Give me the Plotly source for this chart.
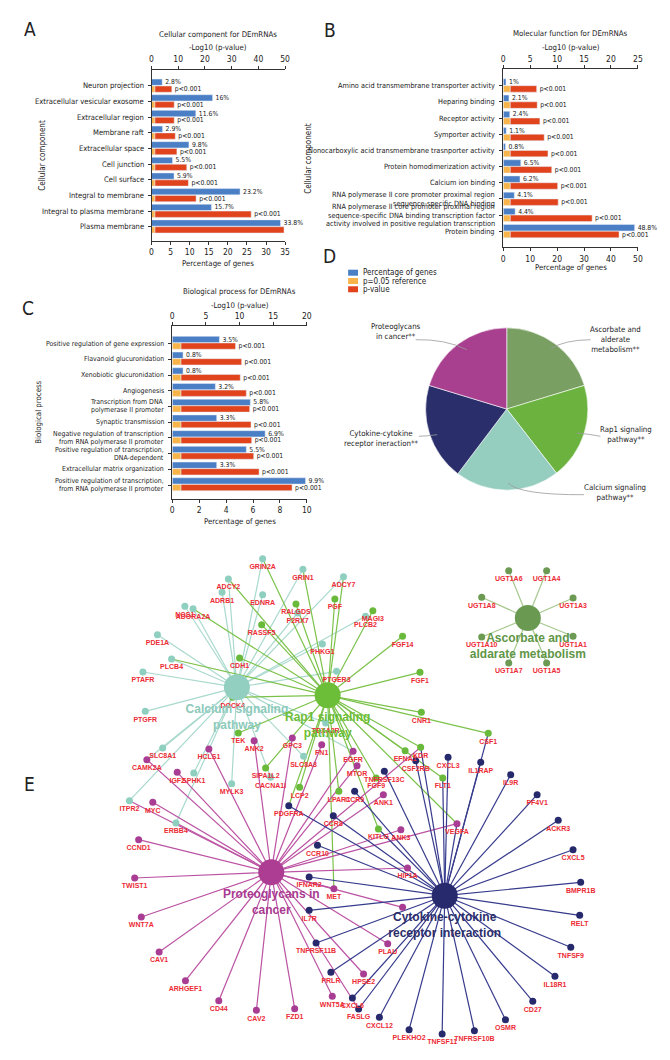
import plotly.graph_objects as go

W, H = 670, 1060
NARROW = "DejaVu Sans Condensed, Liberation Sans Narrow, sans-serif"
BOLD = "Liberation Sans, Arial, sans-serif"
TXT = "#222222"
AX = "#333333"
BLUE = "#4a7ec5"
YELLOW = "#f8b448"
RED = "#e1431d"
P_REF = 1.30  # -log10(0.05) reference

# ---------------- Panel A: cellular component ----------------
a_terms = ["Neuron projection", "Extracellular vesicular exosome", "Extracellular region",
           "Membrane raft", "Extracellular space", "Cell junction", "Cell surface",
           "Integral to membrane", "Integral to plasma membrane", "Plasma membrane"]
a_pct = [2.8, 16, 11.6, 2.9, 9.8, 5.5, 5.9, 23.2, 15.7, 33.8]
a_logp = [7.6, 8.5, 8.5, 8.9, 9.5, 13.2, 13.8, 16.7, 37.3, 49.6]
a_ptxt = ["p<0.001"] * 9 + [""]

# ---------------- Panel B: molecular function ----------------
b_terms = ["Amino acid transmembrane transporter activity", "Heparing binding", "Receptor activity",
           "Symporter activity", "Nonocarboxylic acid transmembrane trasnporter activity",
           "Protein homodimerization activity", "Calcium ion binding",
           "RNA polymerase II core promoter proximal region<br>sequence-specific DNA binding",
           "RNA polymerase II core promoter proximal region<br>sequence-specific DNA binding transcription factor<br>activity involved in positive regulation transcription",
           "Protein binding"]
b_pct = [1, 2.1, 2.4, 1.1, 0.8, 6.5, 6.2, 4.1, 4.4, 48.8]
b_logp = [6.2, 6.3, 6.8, 7.6, 8.3, 9.0, 10.1, 10.2, 16.5, 21.5]
b_ptxt = ["p<0.001"] * 10

# ---------------- Panel C: biological process ----------------
c_terms = ["Positive regulation of gene expression", "Flavanoid glucuronidation",
           "Xenobiotic glucuronidation", "Angiogenesis",
           "Transcription from DNA<br>polymerase II promoter", "Synaptic transmission",
           "Negative regulation of transcription<br>from RNA polymerase II promoter",
           "Positive regulation of transcription,<br>DNA-dependent",
           "Extracellular matrix organization",
           "Positive regulation of transcription,<br>from RNA polymerase II promoter"]
c_pct = [3.5, 0.8, 0.8, 3.2, 5.8, 3.3, 6.9, 5.5, 3.3, 9.9]
c_logp = [9.4, 10.3, 10.1, 11.0, 11.5, 11.7, 11.8, 12.1, 12.9, 17.8]
c_ptxt = ["p<0.001"] * 10

# ---------------- Panel D: pathways pie ----------------
d_names = ["Ascorbate and<br>alderate<br>metabolism**", "Rap1 signaling<br>pathway**",
           "Calcium signaling<br>pathway**", "Cytokine-cytokine<br>receptor ineraction**",
           "Proteoglycans<br>in cancer**"]
d_vals = [20.3, 19.2, 20.8, 19.4, 20.3]
d_cols = ["#79a062", "#6bb33e", "#95cdbf", "#2a2f6c", "#a8408f"]

# ---------------- Panel E: network ----------------
hub_names = ["Calcium signaling<br>pathway", "Rap1 signaling<br>pathway",
             "Ascorbate and<br>aldarate metabolism", "Proteoglycans in<br>cancer",
             "Cytokine-cytokine<br>receptor interaction"]
hub_code = ["C", "R", "A", "P", "K"]
hub_x = [229.3, 321.0, 523.3, 264.0, 439.3]
hub_y = [679.3, 687.3, 610.0, 864.3, 887.7]
hub_label_y = [710.0, 718.0, 639.0, 895.0, 918.0]

genes = ["GRIN2A", "GRIN1", "ADCY7", "ADCY2", "ADRB1", "EDNRA", "NOS1", "ADORA2A", "RALGDS", "P2RX7",
         "PGF", "MAGI3", "PLCB2", "RASSF5", "FGF14", "PDE1A", "PHKG1", "CDH1", "PLCB4", "FGF1",
         "PTAFR", "PTGER3", "DOCK4", "PTGFR", "CNR1", "TBXA2R", "TEK", "CSF1", "ANK2", "GPC3",
         "FN1", "KDR", "SLC8A1", "HCLS1", "EFNA1", "EGFR", "SLC8A3", "CXCL3", "CAMK2A", "CSF2RB",
         "IL1RAP", "MTOR", "SIPA1L2", "TNFRSF13C", "IGF2", "SPHK1", "IL9R", "CACNA1I", "FGF9", "FLT1",
         "MYLK3", "LCP2", "LPAR1", "CCR9", "ANK1", "PF4V1", "ITPR2", "MYC", "PDGFRA", "CCR8",
         "ACKR3", "ERBB4", "VEGFA", "KITLG", "ANK3", "CCND1", "CCR10", "CXCL5", "HIF1A", "IFNAR2",
         "TWIST1", "BMPR1B", "MET", "", "IL7R", "RELT", "WNT7A", "TNFRSF11B", "PLAU", "TNFSF9",
         "CAV1", "PRLR", "HPSE2", "IL18R1", "ARHGEF1", "WNT5A", "CXCL6", "CD44", "CD27", "FASLG",
         "FZD1", "CAV2", "CXCL12", "OSMR", "PLEKHO2", "TNFRSF10B", "TNFSF11",
         "UGT1A6", "UGT1A4", "UGT1A8", "UGT1A3", "UGT1A10", "UGT1A1", "UGT1A7", "UGT1A5"]
gene_x = [255.3, 296.0, 337.0, 220.7, 214.3, 255.3, 176.7, 185.0, 289.0, 290.7,
          328.3, 366.7, 359.3, 254.3, 396.7, 149.0, 315.7, 232.0, 163.3, 414.3,
          134.3, 330.0, 225.0, 136.7, 415.7, 319.0, 230.7, 483.3, 246.7, 285.3,
          315.0, 415.0, 154.3, 201.0, 399.3, 346.7, 296.7, 442.7, 138.3, 410.0,
          475.7, 350.7, 258.3, 378.3, 169.0, 185.7, 506.0, 263.3, 370.0, 437.3,
          224.0, 292.7, 332.3, 348.3, 377.3, 532.7, 120.7, 144.3, 281.7, 326.7,
          554.0, 167.7, 451.7, 372.3, 395.0, 130.0, 310.7, 569.0, 401.7, 302.3,
          126.0, 576.7, 327.3, 396.7, 302.3, 575.7, 132.7, 309.3, 381.7, 566.7,
          150.7, 324.3, 357.3, 550.7, 177.3, 325.7, 346.0, 211.0, 528.3, 352.3,
          287.7, 249.0, 373.3, 500.7, 403.3, 469.3, 436.7,
          504.0, 542.3, 476.7, 569.0, 476.7, 569.0, 504.0, 542.3]
gene_y = [550.7, 561.3, 568.7, 571.0, 584.3, 586.7, 598.3, 600.7, 596.0, 605.0,
          591.0, 602.7, 608.3, 616.7, 628.3, 626.7, 636.0, 650.0, 651.0, 664.3,
          664.0, 663.3, 689.3, 703.3, 704.3, 715.0, 725.0, 725.3, 732.7, 730.0,
          736.7, 739.3, 740.0, 741.0, 742.7, 743.3, 748.3, 749.3, 751.7, 752.7,
          754.3, 757.7, 760.0, 763.3, 764.3, 765.0, 766.7, 769.3, 770.0, 770.0,
          775.7, 779.3, 783.3, 783.3, 786.7, 786.7, 792.7, 794.3, 797.7, 807.7,
          812.3, 815.0, 815.7, 821.0, 821.7, 831.7, 837.3, 841.7, 860.0, 869.0,
          870.0, 874.3, 880.7, 899.3, 902.3, 907.3, 909.0, 935.0, 935.7, 939.3,
          944.0, 964.3, 966.0, 968.3, 972.7, 988.3, 990.0, 992.7, 993.3, 1001.0,
          1000.7, 1002.3, 1009.3, 1011.7, 1021.7, 1022.7, 1026.0,
          562.7, 562.7, 589.3, 590.0, 629.0, 628.3, 655.0, 655.0]
gene_paths = ["CR", "CR", "CR", "CR", "C", "C", "C", "CR", "R", "C",
              "R", "R", "C", "R", "R", "C", "C", "R", "CR", "R",
              "C", "C", "R", "C", "R", "C", "R", "RK", "P", "P",
              "P", "RPK", "C", "P", "R", "PCR", "C", "K", "PC", "K",
              "K", "P", "R", "K", "P", "C", "K", "C", "R", "RK",
              "C", "R", "R", "K", "P", "K", "CP", "P", "KR", "K",
              "K", "CP", "PRK", "RK", "P", "P", "K", "K", "P", "K",
              "P", "K", "PR", "P", "K", "K", "P", "K", "P", "K",
              "P", "K", "P", "K", "P", "P", "K", "P", "K", "KP",
              "P", "P", "K", "K", "K", "K", "K",
              "A", "A", "A", "A", "A", "A", "A", "A"]

# ---------------- styling maps ----------------
node_col = {"C": "#8fcfc0", "R": "#69b93a", "A": "#6c9a53", "P": "#a83d93", "K": "#262a6c"}
edge_col = {"C": "#a9d9cd", "R": "#7cc24a", "A": "#a6c88e", "P": "#bb52a2", "K": "#363b8c"}
hub_col = {"C": "#93cfc1", "R": "#6cbd37", "A": "#6a9a52", "P": "#ac3d92", "K": "#272a6c"}
hub_txt = {"C": "#8ccabb", "R": "#6cbd37", "A": "#5f9647", "P": "#a83a90", "K": "#2b2e6b"}
GENE_TXT = "#ec2b35"


def px(x):
    return x / W


def py(y):
    return 1 - y / H


fig = go.Figure()


def add_bars(terms, pct, logp, ptxt, xb, xt, ya, boff, roff):
    idx = list(range(len(terms)))
    common = dict(orientation="h", yaxis=ya, width=0.4, hoverinfo="skip", showlegend=False,
                  cliponaxis=False, constraintext="none")
    fig.add_trace(go.Bar(y=idx, x=pct, xaxis=xb, offset=boff, marker=dict(color=BLUE),
                         text=[f"{v:g}%" for v in pct], textposition="outside",
                         textfont=dict(family=NARROW, size=6.8, color=TXT), **common))
    fig.add_trace(go.Bar(y=idx, x=[P_REF] * len(terms), xaxis=xt, offset=roff,
                         marker=dict(color=YELLOW), **common))
    fig.add_trace(go.Bar(y=idx, x=[v - P_REF for v in logp], base=P_REF, xaxis=xt, offset=roff,
                         marker=dict(color=RED), text=ptxt, textposition="outside",
                         textfont=dict(family=NARROW, size=6.8, color=TXT), **common))


add_bars(a_terms, a_pct, a_logp, a_ptxt, "x", "x2", "y", -0.44, 0.0)
add_bars(b_terms, b_pct, b_logp, b_ptxt, "x3", "x4", "y2", -0.42, 0.0)
add_bars(c_terms, c_pct, c_logp, c_ptxt, "x5", "x6", "y3", -0.46, -0.04)

# pie
fig.add_trace(go.Pie(values=d_vals, labels=d_names, sort=False, direction="clockwise", rotation=0,
                     marker=dict(colors=d_cols, line=dict(color="white", width=0.6)),
                     textinfo="none", hoverinfo="skip", showlegend=False,
                     domain=dict(x=[px(420), px(584)], y=[py(483), py(319)])))

# network edges
for code in ["C", "R", "A", "P", "K"]:
    hi = hub_code.index(code)
    ex, ey = [], []
    for gx, gy, gp in zip(gene_x, gene_y, gene_paths):
        if code in gp:
            ex += [hub_x[hi], gx, None]
            ey += [hub_y[hi], gy, None]
    fig.add_trace(go.Scatter(x=ex, y=ey, mode="lines", xaxis="x7", yaxis="y4",
                             line=dict(color=edge_col[code], width=1.2),
                             hoverinfo="skip", showlegend=False))

# gene nodes
fig.add_trace(go.Scatter(x=gene_x, y=gene_y, mode="markers", xaxis="x7", yaxis="y4",
                         marker=dict(size=7, color=[node_col[p[0]] for p in gene_paths],
                                     line=dict(width=0)),
                         hoverinfo="skip", showlegend=False))
# hubs
fig.add_trace(go.Scatter(x=hub_x, y=hub_y, mode="markers", xaxis="x7", yaxis="y4",
                         marker=dict(size=26, color=[hub_col[c] for c in hub_code], line=dict(width=0)),
                         hoverinfo="skip", showlegend=False))
# gene labels
fig.add_trace(go.Scatter(x=gene_x, y=[v + 8.5 for v in gene_y], mode="text", text=genes,
                         xaxis="x7", yaxis="y4", textposition="middle center",
                         textfont=dict(family=BOLD, size=7, color=GENE_TXT, weight="bold"),
                         hoverinfo="skip", showlegend=False))
# hub labels
fig.add_trace(go.Scatter(x=hub_x, y=hub_label_y, mode="text", text=hub_names,
                         xaxis="x7", yaxis="y4", textposition="middle center",
                         textfont=dict(family=BOLD, size=12, color=[hub_txt[c] for c in hub_code],
                                       weight="bold"),
                         hoverinfo="skip", showlegend=False))


def xax(dom, rng, dtick, side, anchor, overlaying=None):
    d = dict(domain=dom, range=rng, tickmode="linear", tick0=0, dtick=dtick, side=side,
             anchor=anchor, showline=True, linecolor=AX, linewidth=1, ticks="outside", ticklen=3,
             tickcolor=AX, tickfont=dict(family=NARROW, size=8.5, color=TXT), showgrid=False,
             zeroline=False, fixedrange=True)
    if overlaying:
        d["overlaying"] = overlaying
    return d


def yax(dom, n, rng, anchor):
    return dict(domain=dom, range=rng, tickmode="array", tickvals=list(range(n)),
                ticktext=[""] * n, anchor=anchor, showline=True, linecolor=AX, linewidth=1,
                ticks="outside", ticklen=3, tickcolor=AX, showgrid=False,
                zeroline=False, fixedrange=True)


A_dx = [px(143), px(278)]
A_dy = [py(233), py(61.7)]
B_dx = [px(498.5), px(634.5)]
B_dy = [py(239.3), py(61)]
C_dx = [px(164), px(300)]
C_dy = [py(490.7), py(318.3)]

layout = dict(
    width=W, height=H, margin=dict(l=0, r=0, t=0, b=0), paper_bgcolor="white", plot_bgcolor="rgba(0,0,0,0)",
    barmode="overlay", showlegend=False,
    xaxis=xax(A_dx, [0, 35], 5, "bottom", "y"),
    xaxis2=xax(A_dx, [0, 50], 10, "top", "y", "x"),
    yaxis=yax(A_dy, len(a_terms), [9.91, -1.04], "x"),
    xaxis3=xax(B_dx, [0, 50], 10, "bottom", "y2"),
    xaxis4=xax(B_dx, [0, 25], 5, "top", "y2", "x3"),
    yaxis2=yax(B_dy, len(b_terms), [9.99, -1.03], "x3"),
    xaxis5=xax(C_dx, [0, 10], 2, "bottom", "y3"),
    xaxis6=xax(C_dx, [0, 20], 5, "top", "y3", "x5"),
    yaxis3=yax(C_dy, len(c_terms), [9.87, -1.1], "x5"),
    xaxis7=dict(domain=[0, 1], range=[0, W], visible=False, fixedrange=True, anchor="y4"),
    yaxis4=dict(domain=[0, py(540)], range=[H, 540], visible=False, fixedrange=True, anchor="x7"),
)
fig.update_layout(**layout)

ann = []


def text(x, y, s, size=9, angle=0, family=NARROW, color=TXT, xanchor="center"):
    ann.append(dict(x=px(x), y=py(y), xref="paper", yref="paper", text=s, showarrow=False,
                    font=dict(family=family, size=size, color=color), textangle=angle,
                    xanchor=xanchor, yanchor="middle"))


# category labels (each wrapped line placed separately for tight line spacing)
def cat_labels(terms, x_right, yref, size, spacing):
    for i, t in enumerate(terms):
        lines = t.split("<br>")
        n = len(lines)
        for k, ln in enumerate(lines):
            ann.append(dict(x=px(x_right), y=i, xref="paper", yref=yref, text=ln, showarrow=False,
                            font=dict(family=NARROW, size=size, color=TXT), xanchor="right",
                            yanchor="middle", yshift=-(k - (n - 1) / 2) * spacing))


cat_labels(a_terms, 137, "y", 7.6, 9)
cat_labels(b_terms, 492.5, "y2", 7.3, 8.4)
cat_labels(c_terms, 157.5, "y3", 6.9, 8)

# panel letters
for L, x, y in [("A", 20, 21), ("B", 323, 22), ("C", 18, 300), ("D", 323, 248), ("E", 20, 776)]:
    text(x, y, L, size=19)

# bar panel titles
text(210.5, 26.7, "Cellular component for DEmRNAs", 7.8)
text(210.5, 40, "-Log10 (p-value)", 7.8)
text(210.5, 256, "Percentage of genes", 7.8)
text(32, 147, "Cellular component", 8, -90)
text(566.5, 26, "Molecular function for DEmRNAs", 7.8)
text(566.5, 40, "-Log10 (p-value)", 7.8)
text(566.5, 260, "Percentage of genes", 7.8)
text(302, 150, "Cellular component", 8, -90)
text(232, 284, "Biological process for DEmRNAs", 7.8)
text(232, 297.3, "-Log10 (p-value)", 7.8)
text(232, 513, "Percentage of genes", 7.8)
text(28, 404, "Biological process", 7.8, -90)

# legend
shapes = []
for col, lab, yc in [(BLUE, "Percentage of genes", 264.7), (YELLOW, "p=0.05 reference", 273),
                     (RED, "p-value", 281.3)]:
    shapes.append(dict(type="rect", xref="paper", yref="paper", x0=px(341.7), x1=px(351.7),
                       y0=py(yc + 3), y1=py(yc - 3), fillcolor=col, line=dict(width=0)))
    text(355, yc, lab, 8, xanchor="left")

# pie labels
text(390, 323.3, "Proteoglycans<br>in cancer**", 7.8)
text(611.7, 331.7, "Ascorbate and<br>alderate<br>metabolism**", 7.8)
text(622.7, 426.7, "Rap1 signaling<br>pathway**", 7.8)
text(375, 430, "Cytokine-cytokine<br>receptor ineraction**", 7.8)
text(611.7, 485, "Calcium signaling<br>pathway**", 7.8)


def curve(x0, y0, cx, cy, x1, y1):
    shapes.append(dict(type="path", xref="paper", yref="paper",
                       path=f"M {px(x0)},{py(y0)} Q {px(cx)},{py(cy)} {px(x1)},{py(y1)}",
                       line=dict(color="#9a9a9a", width=0.8)))


curve(410, 331.7, 440, 331, 461.7, 341.7)
curve(586.7, 331.7, 560, 332, 546.7, 340.7)
curve(596.7, 428.3, 585, 426, 572.7, 425)
curve(413.3, 428.3, 422, 428, 431.7, 426.7)
curve(503.3, 475, 515, 487, 580, 486.7)

fig.update_layout(annotations=ann, shapes=shapes)
fig.write_html("out.html")
